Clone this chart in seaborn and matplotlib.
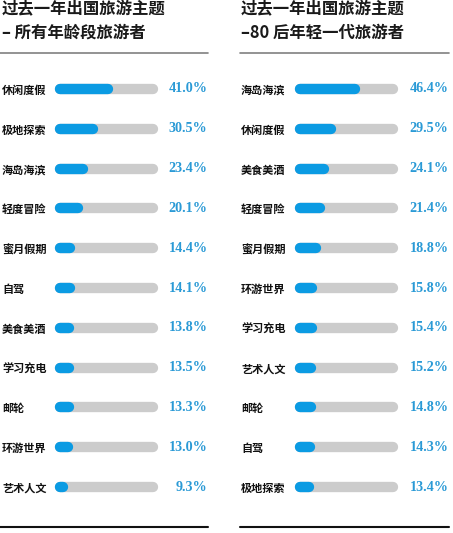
import matplotlib
matplotlib.use("Agg")
import matplotlib.pyplot as plt
from matplotlib.lines import Line2D
import seaborn as sns
import pandas as pd

sns.set_theme(style="white")
plt.rcParams['font.family'] = ['Noto Sans CJK SC', 'DejaVu Sans']

# ---- data ----
left_title = ["过去一年出国旅游主题", "– 所有年龄段旅游者"]
left_cats = ["休闲度假", "极地探索", "海岛海滨", "轻度冒险", "蜜月假期", "自驾",
             "美食美酒", "学习充电", "邮轮", "环游世界", "艺术人文"]
left_vals = [41.0, 30.5, 23.4, 20.1, 14.4, 14.1, 13.8, 13.5, 13.3, 13.0, 9.3]

right_title = ["过去一年出国旅游主题", "–80 后年轻一代旅游者"]
right_cats = ["海岛海滨", "休闲度假", "美食美酒", "轻度冒险", "蜜月假期", "环游世界",
              "学习充电", "艺术人文", "邮轮", "自驾", "极地探索"]
right_vals = [46.4, 29.5, 24.1, 21.4, 18.8, 15.8, 15.4, 15.2, 14.8, 14.3, 13.4]

track_max = 73.0

BLUE = "#0b9be3"
TEXT_BLUE = "#2a9ad6"
GRAY = "#cccccc"

W, H = 453, 533
fig = plt.figure(figsize=(W / 100, H / 100), dpi=100)


def px_axes(x0, y0, x1, y1):
    return fig.add_axes([x0 / W, 1 - y1 / H, (x1 - x0) / W, (y1 - y0) / H])


def capsule_patches(ax, patches, color, z):
    """Replace seaborn's rectangles with round-capped strokes of equal extent."""
    fig.canvas.draw()
    t = ax.transData
    p0 = t.transform((0, 0))
    p1 = t.transform((1, 1))
    px_per_x = abs(p1[0] - p0[0])
    px_per_y = abs(p1[1] - p0[1])
    for p in list(patches):
        x, y, w, h = p.get_x(), p.get_y(), p.get_width(), p.get_height()
        p.remove()
        h_px = abs(h) * px_per_y
        r = (h_px / 2) / px_per_x
        yc = y + h / 2
        xa = x + r
        xb = max(x + w - r, xa + 1e-6)
        ln = Line2D([xa, xb], [yc, yc], color=color, lw=h_px * 0.72,
                    solid_capstyle="round", zorder=z, clip_on=False)
        ax.add_line(ln)


def panel(x_label, x_track0, x_track1, x_val, x_line0, x_line1, title, cats, vals):
    ax = px_axes(x_track0, 69, x_track1, 507)
    df = pd.DataFrame({"cat": cats, "val": vals, "track": [track_max] * len(cats)})
    sns.barplot(data=df, y="cat", x="track", color=GRAY, width=0.26,
                ax=ax, orient="h", saturation=1)
    n_track = len(ax.patches)
    sns.barplot(data=df, y="cat", x="val", color=BLUE, width=0.26,
                ax=ax, orient="h", saturation=1)
    ax.set_xlim(0, track_max)
    ax.set_ylim(len(cats) - 0.5, -0.5)
    ax.set_xlabel("")
    ax.set_ylabel("")
    ax.set_xticks([])
    for s in ax.spines.values():
        s.set_visible(False)
    pad_pt = (x_track0 - x_label) * 0.72
    ax.tick_params(axis="y", length=0, pad=pad_pt)
    for tl in ax.get_yticklabels():
        tl.set_ha("left")
        tl.set_fontsize(8.0)
        tl.set_fontweight("heavy")
        tl.set_color("#111111")
    patches = list(ax.patches)
    track_p = patches[:n_track]
    fill_p = patches[n_track:]
    capsule_patches(ax, track_p, GRAY, 2)
    capsule_patches(ax, fill_p, BLUE, 3)

    # value labels
    tr = matplotlib.transforms.blended_transform_factory(fig.transFigure, ax.transData)
    for i, v in enumerate(vals):
        ax.text(x_val / W, i, f"{v:.1f}%", transform=tr, ha="right", va="center",
                fontsize=10.2, fontweight="bold", color=TEXT_BLUE,
                family=["Liberation Serif", "DejaVu Serif"])

    # titles
    fig.text(x_label / W, 1 - 9.5 / H, title[0], ha="left", va="center",
             fontsize=11.8, fontweight="heavy", color="#1a1a1a")
    fig.text(x_label / W, 1 - 32.5 / H, title[1], ha="left", va="center",
             fontsize=11.8, fontweight="heavy", color="#1a1a1a")
    # rules
    fig.add_artist(Line2D([x_line0 / W, x_line1 / W], [1 - 53 / H, 1 - 53 / H],
                          color="#808080", lw=1.2, transform=fig.transFigure))
    fig.add_artist(Line2D([x_line0 / W, x_line1 / W], [1 - 527 / H, 1 - 527 / H],
                          color="#111111", lw=1.5, transform=fig.transFigure))
    return ax


panel(2, 55, 158, 207.5, 0, 208, left_title, left_cats, left_vals)
panel(241, 295, 398, 448.5, 240, 449, right_title, right_cats, right_vals)

fig.savefig("out.png", dpi=100, facecolor="white")
